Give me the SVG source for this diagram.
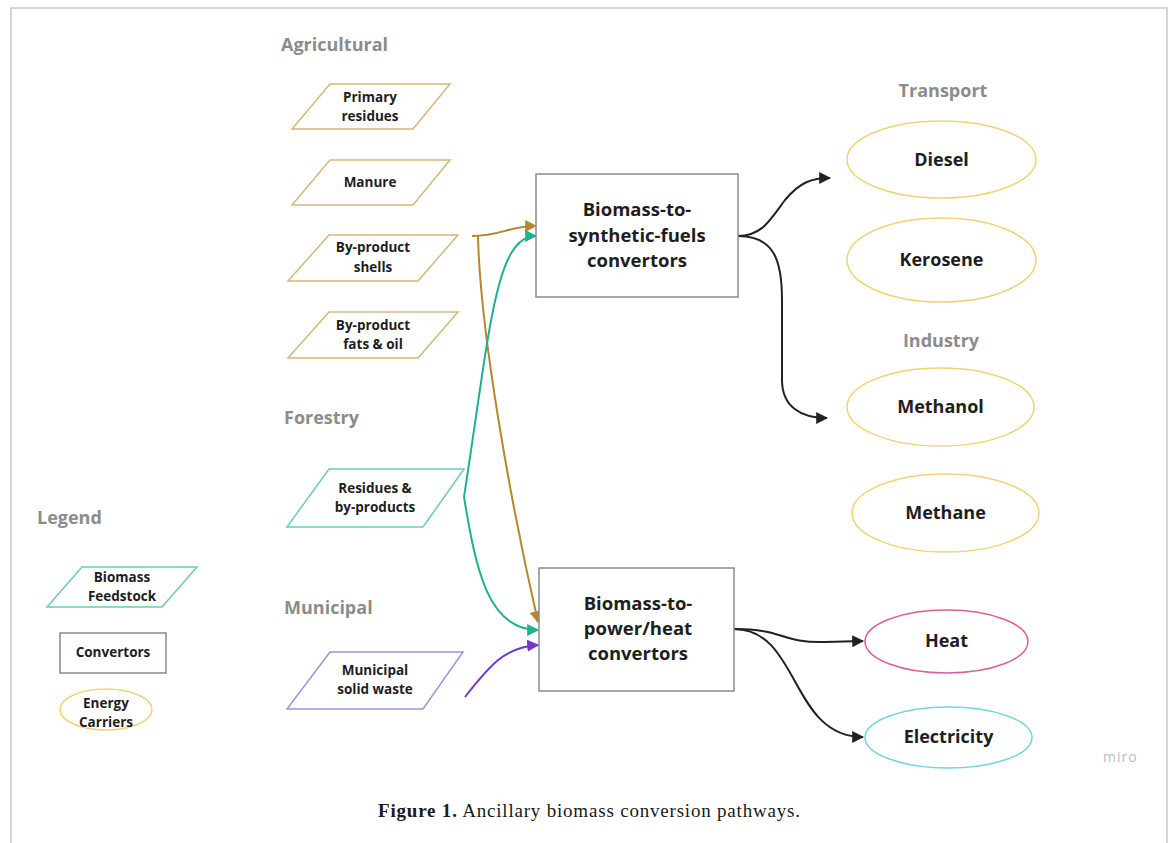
<svg xmlns="http://www.w3.org/2000/svg" width="1173" height="843" viewBox="0 0 1173 843">
<style>
.bg{fill:#ffffff}
.frame{fill:none;stroke:#c8c8c8;stroke-width:1.5}
.title{font-family:"Open Sans","Liberation Sans",sans-serif;font-weight:700;font-size:18px;fill:#8c8c8c}
.lbl{font-family:"Open Sans","Liberation Sans",sans-serif;font-weight:700;font-size:13.5px;fill:#1e1e1e;text-anchor:middle}
.big{font-family:"Open Sans","Liberation Sans",sans-serif;font-weight:700;font-size:18.5px;fill:#1e1e1e;text-anchor:middle}
.ell{font-family:"Open Sans","Liberation Sans",sans-serif;font-weight:700;font-size:18px;fill:#1e1e1e;text-anchor:middle}
.agri{fill:#fff;stroke:#d6b67c;stroke-width:1.5}
.forest{fill:#fff;stroke:#6ccab6;stroke-width:1.5}
.muni{fill:#fff;stroke:#a88fda;stroke-width:1.5}
.box{fill:#fff;stroke:#8a8a8a;stroke-width:1.5}
.carrier{fill:#fff;stroke:#f1d374;stroke-width:1.5}
.heat{fill:#fff;stroke:#dc5c9e;stroke-width:1.5}
.elec{fill:#fff;stroke:#6fd6e0;stroke-width:1.5}
.c{fill:none;stroke-width:2}
.cg{stroke:#b8872c}
.ct{stroke:#1eb08f}
.cp{stroke:#7338c8}
.ck{stroke:#222222}
.cap{font-family:"Liberation Serif","Times New Roman",serif;font-size:19px;fill:#1a1a1a}
.miro{font-family:"Open Sans","Liberation Sans",sans-serif;font-size:14px;fill:#bdbdbd;letter-spacing:1px}
</style>
<defs>
<marker id="ag" viewBox="0 0 10 10" refX="9" refY="5" markerWidth="6" markerHeight="6" markerUnits="strokeWidth" orient="auto"><path d="M0,0 L10,5 L0,10 z" fill="#b8872c"/></marker>
<marker id="at" viewBox="0 0 10 10" refX="9" refY="5" markerWidth="6" markerHeight="6" markerUnits="strokeWidth" orient="auto"><path d="M0,0 L10,5 L0,10 z" fill="#1eb08f"/></marker>
<marker id="ap" viewBox="0 0 10 10" refX="9" refY="5" markerWidth="6" markerHeight="6" markerUnits="strokeWidth" orient="auto"><path d="M0,0 L10,5 L0,10 z" fill="#7338c8"/></marker>
<marker id="ak" viewBox="0 0 10 10" refX="9" refY="5" markerWidth="6" markerHeight="6" markerUnits="strokeWidth" orient="auto"><path d="M0,0 L10,5 L0,10 z" fill="#222222"/></marker>
</defs>
<rect class="bg" x="0" y="0" width="1173" height="843"/>
<path class="frame" d="M11,843 L11,8 L1167,8 L1167,843"/>

<g id="titles">
<text class="title" x="281" y="51">Agricultural</text>
<text class="title" x="284" y="424">Forestry</text>
<text class="title" x="284" y="614">Municipal</text>
<text class="title" x="943" y="97" text-anchor="middle">Transport</text>
<text class="title" x="941" y="347" text-anchor="middle">Industry</text>
<text class="title" x="37" y="524">Legend</text>
</g>

<g id="connectors">
<path class="c cg" d="M472,236 C500,236 510,226 536,226" marker-end="url(#ag)"/>
<path class="c cg" d="M478,236 C480,330 510,500 538,622" marker-end="url(#ag)"/>
<path class="c ct" d="M464,497 C490,330 495,236 536,236" marker-end="url(#at)"/>
<path class="c ct" d="M464,497 C476,570 488,630 538,630" marker-end="url(#at)"/>
<path class="c cp" d="M465,697 C490,665 505,647 538,645" marker-end="url(#ap)"/>
<path class="c ck" d="M738,236 C762,236 770,220 785,200 C800,182 812,178 830,178" marker-end="url(#ak)"/>
<path class="c ck" d="M738,236 C775,236 782,262 782,300 L782,380 C782,406 800,418 827,418" marker-end="url(#ak)"/>
<path class="c ck" d="M734,629 C785,629 780,643 825,642 L863,641" marker-end="url(#ak)"/>
<path class="c ck" d="M734,629 C800,629 790,737 863,737" marker-end="url(#ak)"/>
</g>

<g id="primary-residues">
<polygon class="agri" points="330,84 450,84 413,129 292,129"/>
<text class="lbl" x="370" y="102">Primary</text>
<text class="lbl" x="370" y="121">residues</text>
</g>
<g id="manure">
<polygon class="agri" points="330,160 450,160 413,205 292,205"/>
<text class="lbl" x="370" y="187">Manure</text>
</g>
<g id="byproduct-shells">
<polygon class="agri" points="329,235 458,235 418,281 288,281"/>
<text class="lbl" x="373" y="252">By-product</text>
<text class="lbl" x="373" y="272">shells</text>
</g>
<g id="byproduct-fats">
<polygon class="agri" points="329,312 458,312 418,358 288,358"/>
<text class="lbl" x="373" y="330">By-product</text>
<text class="lbl" x="373" y="349">fats &amp; oil</text>
</g>
<g id="forest-residues">
<polygon class="forest" points="329,469 464,469 423,527 287,527"/>
<text class="lbl" x="375" y="493">Residues &amp;</text>
<text class="lbl" x="375" y="512">by-products</text>
</g>
<g id="municipal-waste">
<polygon class="muni" points="330,652 463,652 423,709 287,709"/>
<text class="lbl" x="375" y="675">Municipal</text>
<text class="lbl" x="375" y="694">solid waste</text>
</g>

<g id="synthetic-convertor">
<rect class="box" x="536" y="174" width="202" height="123"/>
<text class="big" x="637" y="216">Biomass-to-</text>
<text class="big" x="637" y="242">synthetic-fuels</text>
<text class="big" x="637" y="267">convertors</text>
</g>
<g id="power-convertor">
<rect class="box" x="539" y="568" width="195" height="123"/>
<text class="big" x="638" y="610">Biomass-to-</text>
<text class="big" x="638" y="635">power/heat</text>
<text class="big" x="638" y="660">convertors</text>
</g>

<g id="diesel">
<ellipse class="carrier" cx="941.5" cy="159.5" rx="94.5" ry="38.5"/>
<text class="ell" x="941.5" y="166">Diesel</text>
</g>
<g id="kerosene">
<ellipse class="carrier" cx="941.5" cy="260" rx="94.5" ry="42"/>
<text class="ell" x="941.5" y="266">Kerosene</text>
</g>
<g id="methanol">
<ellipse class="carrier" cx="940.5" cy="407" rx="93.5" ry="39"/>
<text class="ell" x="940.5" y="413">Methanol</text>
</g>
<g id="methane">
<ellipse class="carrier" cx="945.5" cy="513" rx="93.5" ry="39"/>
<text class="ell" x="945.5" y="519">Methane</text>
</g>
<g id="heat">
<ellipse class="heat" cx="946.5" cy="641.5" rx="81.5" ry="31.5"/>
<text class="ell" x="946.5" y="647">Heat</text>
</g>
<g id="electricity">
<ellipse class="elec" cx="948.5" cy="737.5" rx="83.5" ry="30.5"/>
<text class="ell" x="948.5" y="743">Electricity</text>
</g>

<g id="legend-feedstock">
<polygon class="forest" points="82,567 197,567 162,607 47,607"/>
<text class="lbl" x="122" y="582">Biomass</text>
<text class="lbl" x="122" y="601">Feedstock</text>
</g>
<g id="legend-convertors">
<rect class="box" x="60" y="633" width="106" height="40"/>
<text class="lbl" x="113" y="657">Convertors</text>
</g>
<g id="legend-carriers">
<ellipse class="carrier" cx="106" cy="709.5" rx="46" ry="20.5"/>
<text class="lbl" x="106" y="708">Energy</text>
<text class="lbl" x="106" y="727">Carriers</text>
</g>

<text class="miro" x="1103" y="762">miro</text>
<text class="cap" x="378" y="817" textLength="422" lengthAdjust="spacing"><tspan font-weight="700">Figure 1.</tspan> Ancillary biomass conversion pathways.</text>
</svg>
